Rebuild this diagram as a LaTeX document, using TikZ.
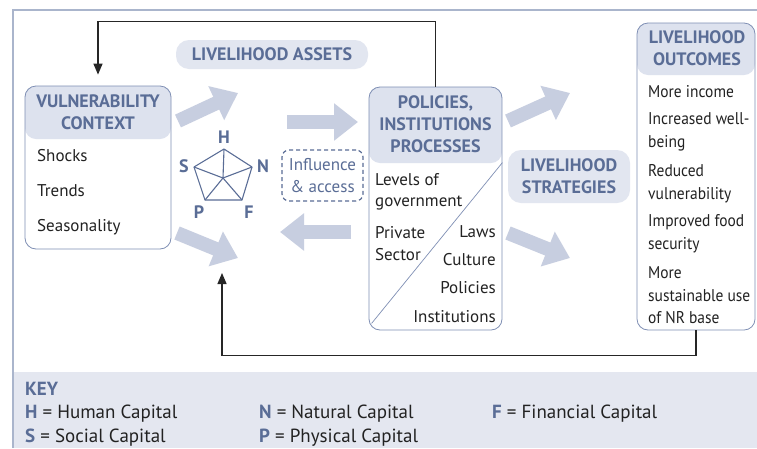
\documentclass[tikz,border=0pt]{standalone}
\usepackage{fontspec}
\setmainfont{PT Sans}
\newfontfamily\narrowbody{PT Sans}[FakeStretch=0.91]
\usetikzlibrary{arrows.meta,calc}
\definecolor{ink}{HTML}{5A6D96}
\definecolor{hdr}{HTML}{DDE2EE}
\definecolor{pill}{HTML}{E2E6F0}
\definecolor{flow}{HTML}{C7CEE0}
\definecolor{boxline}{HTML}{7F8FB4}
\definecolor{keyfill}{HTML}{E4E7F0}
\definecolor{frame}{HTML}{AAB5CC}
\definecolor{txt}{HTML}{222222}
\begin{document}
\begin{tikzpicture}[x=1pt,y=-1pt,
  box/.style={draw=boxline, line width=0.8pt, rounded corners=11pt, inner sep=0pt, fill=white},
  header/.style={path picture={\fill[hdr] (path picture bounding box.north west) rectangle ([yshift=-#1]path picture bounding box.north east);}},
  pillbox/.style={fill=pill, rounded corners=13pt, inner sep=0pt},
  title/.style={font=\fontsize{18}{22}\selectfont\bfseries, text=ink, align=center, inner sep=0pt},
  body/.style={font=\fontsize{17}{22}\selectfont, text=txt, inner sep=0pt},
  outitem/.style={font=\narrowbody\fontsize{17}{22}\selectfont, text=txt, inner sep=0pt, anchor=base west},
  keytxt/.style={font=\fontsize{19}{22}\selectfont, text=txt, inner sep=0pt, anchor=base west},
  bigarrow/.style={draw=flow, line width=14pt, -{Triangle[length=24pt,width=36pt]}},
  feedback/.style={draw=black!85, line width=1.3pt, -{Triangle[length=11pt,width=9pt]}},
  web/.style={draw=ink, line width=1.1pt, line join=round},
  corner/.style={font=\fontsize{18}{20}\selectfont\bfseries, text=ink, inner sep=0pt}
]
\useasboundingbox (0,0) rectangle (757,448);
\fill[white] (0,0) rectangle (757,448);

% key band and outer frame
\fill[keyfill] (13,372) rectangle (757,448);
\draw[frame, line width=1.2pt] (13,448) -- (13,10) -- (757,10);

% main boxes
\node[box, header=53pt, minimum width=146pt, minimum height=163pt] (vul) at (98,167.5) {};
\node[box, header=76pt, minimum width=133pt, minimum height=243pt] (pol) at (435.5,208.5) {};
\node[box, header=52pt, minimum width=118pt, minimum height=307pt] (out) at (696,176.5) {};

% labels on light pills
\node[pillbox, minimum width=192pt, minimum height=29pt] (assets) at (272,54.5) {};
\node[title] at (assets.center) {LIVELIHOOD ASSETS};
\node[pillbox, minimum width=122pt, minimum height=53pt] (strat) at (569,176.5) {};
\node[title] at (strat.center) {LIVELIHOOD\\STRATEGIES};

% box titles
\node[title] (vulT) at (98,112.5) {VULNERABILITY\\CONTEXT};
\node[title] (polT) at (435.5,124.5) {POLICIES,\\INSTITUTIONS\\PROCESSES};
\node[title] (outT) at (697,48.5) {LIVELIHOOD\\OUTCOMES};

% vulnerability context items
\node[body, anchor=base west] (v1) at (37,161) {Shocks};
\node[body, anchor=base west] (v2) at (37,196) {Trends};
\node[body, anchor=base west] (v3) at (37,231) {Seasonality};

% policies box: split by a diagonal
\draw[boxline, line width=0.7pt] ([yshift=-76pt]pol.north east) -- ([xshift=3pt,yshift=7pt]pol.south west);
\node[body, anchor=base west] (p1) at (375,185) {Levels of};
\node[body, anchor=base west] (p2) at (375,206) {government};
\node[body, anchor=base west] (p3) at (375,238) {Private};
\node[body, anchor=base west] (p4) at (375,260) {Sector};
\node[body, anchor=base east] (p5) at (496,237) {Laws};
\node[body, anchor=base east] (p6) at (496,265) {Culture};
\node[body, anchor=base east] (p7) at (496,293) {Policies};
\node[body, anchor=base east] (p8) at (496,322) {Institutions};

% outcomes
\node[outitem] (o1) at (648,97) {More income};
\node[outitem] (o2) at (648,124) {Increased well-};
\node[outitem] (o3) at (648,147) {being};
\node[outitem] (o4) at (648,176) {Reduced};
\node[outitem] (o5) at (648,199) {vulnerability};
\node[outitem] (o6) at (648,226) {Improved food};
\node[outitem] (o7) at (648,249) {security};
\node[outitem] (o8) at (648,278) {More};
\node[outitem] (o9) at (648,301) {sustainable use};
\node[outitem] (o10) at (648,323) {of NR base};

% influence and access
\node[draw=ink, dash pattern=on 4pt off 3pt, line width=1.2pt, rounded corners=7pt, minimum width=81pt, minimum height=51pt,
      inner sep=0pt, font=\fontsize{17}{22}\selectfont, text=ink, align=center] (infl) at (322.5,175.5)
      {Influence\\\& access};

% asset pentagon
\coordinate (ctr) at (223,178);
\coordinate (vH) at (224,149);
\coordinate (vN) at (252,167);
\coordinate (vF) at (242,200);
\coordinate (vP) at (205,200);
\coordinate (vS) at (194,167);
\draw[web] (vH) -- (vN) -- (vF) -- (vP) -- (vS) -- cycle;
\foreach \v in {vH,vN,vF,vP,vS} \draw[web] (ctr) -- (\v);
\node[corner] (lH) at (224,137) {H};
\node[corner] (lN) at (263,166) {N};
\node[corner] (lF) at (249,212) {F};
\node[corner] (lP) at (199,212) {P};
\node[corner] (lS) at (184,166) {S};

% broad flow arrows
\coordinate (a1s) at (178,121); \coordinate (a1e) at (238,93);
\coordinate (a2s) at (287,122); \coordinate (a2e) at (358,122);
\coordinate (a3s) at (351,232); \coordinate (a3e) at (280,232);
\coordinate (a4s) at (177,233); \coordinate (a4e) at (238,258);
\coordinate (a5s) at (508,121); \coordinate (a5e) at (570,93);
\coordinate (a6s) at (508,233); \coordinate (a6e) at (570,258);
\draw[bigarrow] (a1s) -- (a1e);
\draw[bigarrow] (a2s) -- (a2e);
\draw[bigarrow] (a3s) -- (a3e);
\draw[bigarrow] (a4s) -- (a4e);
\draw[bigarrow] (a5s) -- (a5e);
\draw[bigarrow] (a6s) -- (a6e);

% feedback loops
\draw[feedback, shorten >=11pt] (pol.north) -- ++(0,-65) -| (vul.north);
\coordinate (hub) at (222,273);
\draw[feedback] (out.south) -- ++(0,25) -| (hub);

% key
\node[font=\fontsize{19}{22}\selectfont\bfseries, text=ink, inner sep=0pt, anchor=base west] (key) at (25,395) {KEY};
\node[keytxt] (kH) at (25,418) {\textcolor{ink}{\bfseries H} = Human Capital};
\node[keytxt] (kS) at (25,442) {\textcolor{ink}{\bfseries S} = Social Capital};
\node[keytxt] (kN) at (259,418) {\textcolor{ink}{\bfseries N} = Natural Capital};
\node[keytxt] (kP) at (259,442) {\textcolor{ink}{\bfseries P} = Physical Capital};
\node[keytxt] (kF) at (492,418) {\textcolor{ink}{\bfseries F} = Financial Capital};
\end{tikzpicture}
\end{document}
